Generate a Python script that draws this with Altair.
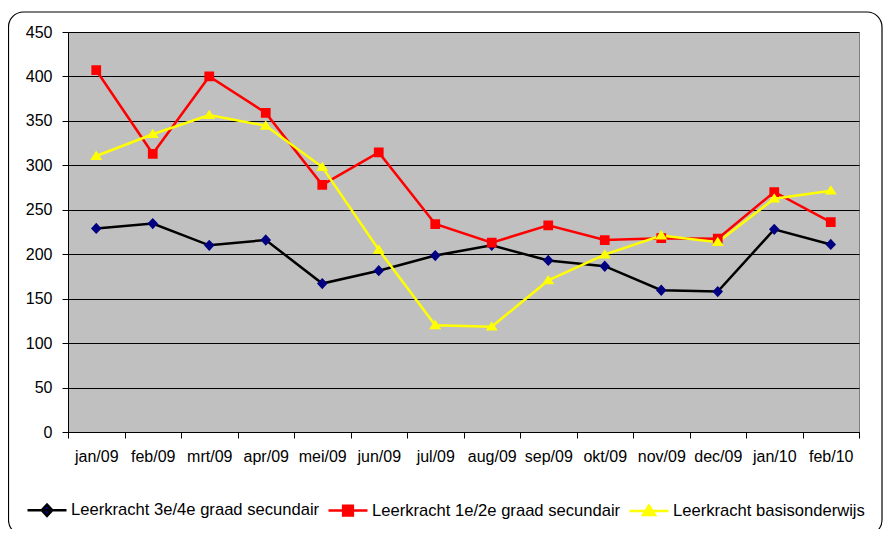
import altair as alt
import pandas as pd

months = ["jan/09", "feb/09", "mrt/09", "apr/09", "mei/09", "jun/09", "jul/09",
          "aug/09", "sep/09", "okt/09", "nov/09", "dec/09", "jan/10", "feb/10"]
series_names = ["Leerkracht 3e/4e graad secundair",
                "Leerkracht 1e/2e graad secundair",
                "Leerkracht basisonderwijs"]
s_34 = [229, 234.5, 210, 216, 167, 181.5, 198.5, 210, 193, 186.5, 159.5, 158, 228, 211]
s_12 = [407, 313, 400, 359, 278, 314.5, 234, 213, 232.5, 216, 218, 217.5, 270, 236]
s_bo = [310.5, 335, 356.5, 344.5, 298, 205, 120, 118.5, 170.5, 199.5, 221, 213.5, 262.5, 271.5]
y_ticks = [0, 50, 100, 150, 200, 250, 300, 350, 400, 450]

line_colors = ["#000000", "#FF0000", "#FFFF00"]
marker_colors = ["#000080", "#FF0000", "#FFFF00"]
marker_paths = [
    "M-1,0H1M0,-0.29L0.27,0L0,0.29L-0.27,0Z",
    "M-1,0H1M-0.25,-0.25H0.25V0.25H-0.25Z",
    "M-1,0H1M0,-0.28L0.31,0.2H-0.31Z",
]

rows = []
for name, vals in zip(series_names, [s_34, s_12, s_bo]):
    for m, v in zip(months, vals):
        rows.append({"maand": m, "serie": name, "waarde": v})
df = pd.DataFrame(rows)

x = alt.X("maand:N", sort=months,
          scale=alt.Scale(type="band", domain=months, paddingInner=0, paddingOuter=0),
          axis=alt.Axis(title=None, labelAngle=0, tickBand="extent", grid=False,
                        tickSize=6, labelPadding=10, labelFontSize=16,
                        labelColor="black", domainColor="black", tickColor="black"),
          bandPosition=0.5)
y = alt.Y("waarde:Q",
          scale=alt.Scale(domain=[0, 450], nice=False, zero=True),
          axis=alt.Axis(title=None, values=y_ticks, grid=True, tickSize=6,
                        labelPadding=10, gridColor="#000000", gridWidth=1,
                        labelFontSize=16, labelColor="black",
                        domainColor="black", tickColor="black"))

leg = alt.Legend(title=None, orient="none", legendX=-42, legendY=457,
                 direction="horizontal", columns=3, columnPadding=3,
                 labelFontSize=16.6, labelLimit=600, labelColor="black",
                 symbolSize=1521, symbolStrokeWidth=2.5, labelOffset=3)

stroke_scale = alt.Scale(domain=series_names, range=line_colors)

base = alt.Chart(df)
lines = base.mark_line(strokeWidth=2.5).encode(
    x=x, y=y,
    stroke=alt.Stroke("serie:N", scale=stroke_scale, legend=leg),
)
points = base.mark_point(filled=True, size=1521, strokeWidth=2.5, opacity=1).encode(
    x=x, y=y,
    fill=alt.Fill("serie:N", scale=alt.Scale(domain=series_names, range=marker_colors), legend=leg),
    stroke=alt.Stroke("serie:N", scale=stroke_scale, legend=leg),
    shape=alt.Shape("serie:N", scale=alt.Scale(domain=series_names, range=marker_paths), legend=leg),
    strokeOpacity=alt.value(0),
)

frame = alt.Chart(pd.DataFrame({"k": [0]})).mark_rect(
    fill="transparent", stroke="black", strokeWidth=1.2, cornerRadius=15
).encode(x=alt.value(-59.5), x2=alt.value(814), y=alt.value(-20), y2=alt.value(503))

chart = alt.layer(frame, lines, points).properties(
    width=791, height=400,
    autosize=alt.AutoSizeParams(type="none"),
    padding={"left": 60, "top": 24, "right": 24, "bottom": 97},
).configure(
    font="Liberation Sans"
).configure_view(
    fill="#C0C0C0", stroke="#808080"
)

chart.save("out.html", embed_options={"renderer": "svg", "actions": False})
